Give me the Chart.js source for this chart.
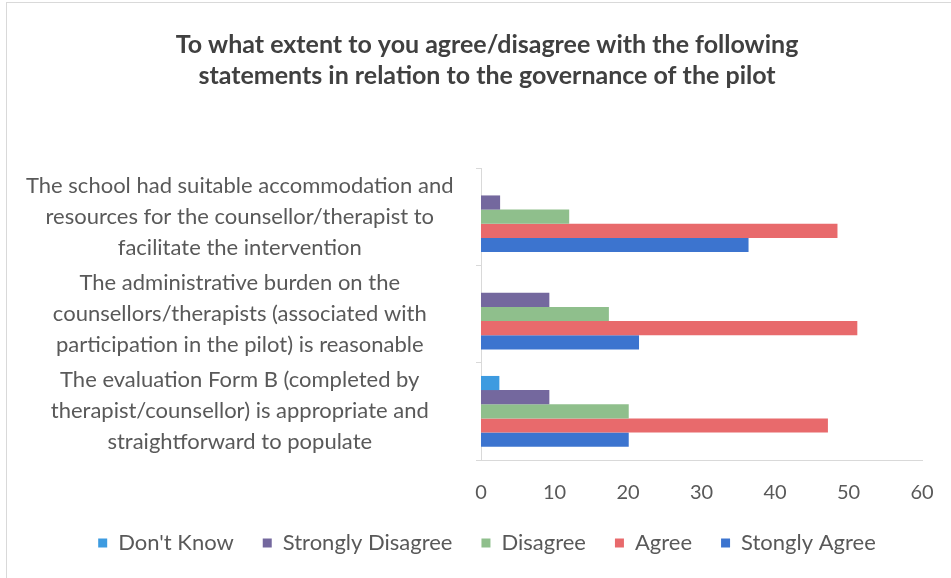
<!DOCTYPE html>
<html>
<head>
<meta charset="utf-8">
<script src="https://cdn.jsdelivr.net/npm/chart.js@4"></script>
<style>
  html, body { margin: 0; padding: 0; background: #fff; overflow: hidden; }
  #frame { position: absolute; left: 6px; top: 2px; border: 1px solid #d9d9d9; background: #fff; }
  canvas { display: block; }
</style>
</head>
<body>
<div id="frame"><canvas id="governanceChart" width="962" height="580"></canvas></div>
<script>
// survey statements (wrapped as in the report)
var statements = [
  ["The school had suitable accommodation and", "resources for the counsellor/therapist to", "facilitate the intervention"],
  ["The administrative burden on the", "counsellors/therapists (associated with", "participation in the pilot) is reasonable"],
  ["The evaluation Form B (completed by", "therapist/counsellor) is appropriate and", "straightforward to populate"]
];

// responses, % of respondents
var dontKnow = [0, 0, 2.5];
var stronglyDisagree = [2.6, 9.3, 9.3];
var disagree = [12, 17.4, 20.1];
var agree = [48.5, 51.2, 47.2];
var stonglyAgree = [36.4, 21.5, 20.1];

var xTicks = [0, 10, 20, 30, 40, 50, 60];

var textColor = "#595959";
var fontFamily = "Lato, 'Open Sans', sans-serif";

// title and legend are centred on the whole frame, not on the label column
var centreOnFrame = {
  id: 'centreOnFrame',
  afterLayout: function (chart) {
    chart.titleBlock.left += 35;
    chart.legend.left += 35;
  }
};

var canvas = document.getElementById("governanceChart");
var governanceChart = new Chart(canvas, {
  type: 'bar',
  data: {
    labels: statements,
    datasets: [
      { label: "Don't Know", data: dontKnow, backgroundColor: "#3d9be0" },
      { label: "Strongly Disagree", data: stronglyDisagree, backgroundColor: "#74689e" },
      { label: "Disagree", data: disagree, backgroundColor: "#8fbf8c" },
      { label: "Agree", data: agree, backgroundColor: "#e86a6c" },
      { label: "Stongly Agree", data: stonglyAgree, backgroundColor: "#3c74cf" }
    ]
  },
  plugins: [centreOnFrame],
  options: {
    indexAxis: 'y',
    responsive: false,
    animation: false,
    categoryPercentage: 0.727,
    barPercentage: 1,
    layout: { padding: { left: 10, right: 47, top: 11, bottom: 19 } },
    scales: {
      x: {
        min: 0,
        max: 60,
        afterBuildTicks: function (scale) {
          scale.ticks = xTicks.map(function (v) { return { value: v }; });
        },
        afterFit: function (scale) { scale.height = 43; },
        grid: { display: false },
        border: { display: true, color: "#d9d9d9" },
        ticks: { color: textColor, padding: 13, font: { family: fontFamily, size: 20 } }
      },
      y: {
        afterFit: function (scale) { scale.width = 464; },
        grid: { drawOnChartArea: false, drawTicks: true, tickLength: 5, color: "#d9d9d9" },
        border: { display: true, color: "#d9d9d9" },
        ticks: {
          color: textColor,
          autoSkip: false,
          crossAlign: 'center',
          padding: 22.5,
          font: { family: fontFamily, size: 22, lineHeight: '31px' }
        }
      }
    },
    plugins: {
      title: {
        display: true,
        text: ["To what extent to you agree/disagree with the following", "statements in relation to the governance of the pilot"],
        color: "#404040",
        font: { family: fontFamily, size: 25, weight: 'bold', lineHeight: '31px' },
        padding: { top: 15.5, bottom: 76.5 }
      },
      legend: {
        position: 'bottom',
        labels: {
          color: textColor,
          boxWidth: 9,
          boxHeight: 9,
          padding: 29,
          font: { family: fontFamily, size: 22 }
        }
      },
      tooltip: { enabled: false }
    }
  }
});
</script>
</body>
</html>
